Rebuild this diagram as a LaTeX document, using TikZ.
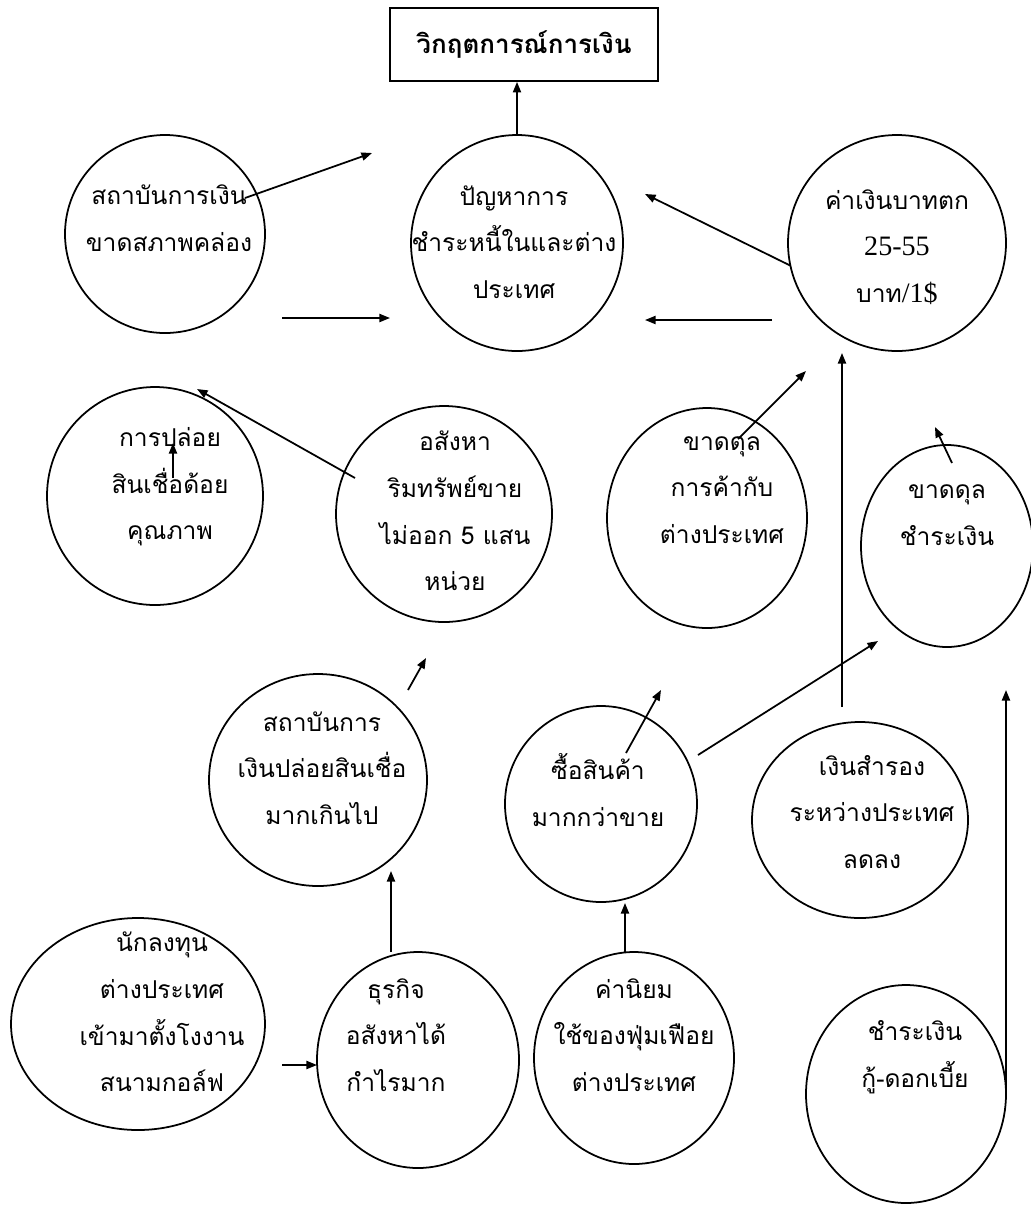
\documentclass[tikz,border=0pt]{standalone}
\usepackage{fontspec}
\newfontfamily\thaifont[Script=Thai]{Loma}
\newfontfamily\digitfont{Liberation Serif}
\usetikzlibrary{arrows.meta,shapes.geometric}
\tikzset{
  bubble/.style={ellipse,draw,line width=1pt,inner sep=0pt,outer sep=0pt},
  bubtext/.style={align=center,inner sep=0pt,font=\thaifont\fontsize{14}{26.5}\selectfont},
  arr/.style={line width=1pt,-{Triangle[length=6pt,width=4.6pt]}},
}
\newcommand{\bub}[8]{%
  \node[bubble,minimum width=#4*0.02cm,minimum height=#5*0.02cm] (#1) at (#2,#3) {};
  \node[bubtext] (#1txt) at (#6,#7) {#8};}

\begin{document}
\begin{tikzpicture}[x=0.02cm,y=-0.02cm]
\useasboundingbox (0,0) rectangle (1031,1218);
\node[draw,line width=1pt,minimum width=268*0.02cm,minimum height=73*0.02cm,
  font=\thaifont\bfseries\fontsize{14.8}{17}\selectfont] (title) at (524,44.5) {วิกฤตการณ์การเงิน};
\bub{liq}{165}{234}{200}{198}{169}{218}{สถาบันการเงิน\\ขาดสภาพคล่อง}
\bub{prob}{517}{243}{212}{216}{514}{242}{ปัญหาการ\\ชำระหนี้ในและต่าง\\ประเทศ}
\bub{cur}{897}{243}{218}{216}{897}{247}{ค่าเงินบาทตก\\{\digitfont\fontsize{16}{26.5}\selectfont 25-55}\\บาท{\digitfont\fontsize{16}{26.5}\selectfont /1\$}}
\bub{poor}{155}{496}{216}{218}{170}{487}{การปล่อย\\สินเชื่อด้อย\\คุณภาพ}
\bub{asset}{444}{514}{216}{216}{455}{511}{อสังหา\\ริมทรัพย์ขาย\\ไม่ออก 5 แสน\\หน่วย}
\bub{trade}{707}{518}{200}{220}{722}{490}{ขาดดุล\\การค้ากับ\\ต่างประเทศ}
\bub{pay}{947}{546}{172}{202}{947}{515}{ขาดดุล\\ชำระเงิน}
\bub{credit}{318}{780}{218}{212}{322}{768}{สถาบันการ\\เงินปล่อยสินเชื่อ\\มากเกินไป}
\bub{buy}{601}{804}{192}{196}{598}{790}{ซื้อสินค้า\\มากกว่าขาย}
\bub{res}{860}{820}{216}{196}{872}{812}{เงินสำรอง\\ระหว่างประเทศ\\ลดลง}
\bub{inv}{138}{1024}{254}{212}{162}{1012}{นักลงทุน\\ต่างประเทศ\\เข้ามาตั้งโงงาน\\สนามกอล์ฟ}
\bub{biz}{418}{1060}{202}{216}{396}{1035}{ธุรกิจ\\อสังหาได้\\กำไรมาก}
\bub{val}{634}{1058}{200}{212}{634}{1035}{ค่านิยม\\ใช้ของฟุ่มเฟือย\\ต่างประเทศ}
\bub{rep}{906}{1094}{200}{218}{915}{1057}{ชำระเงิน\\กู้-ดอกเบี้ย}

\coordinate (liqout) at (245,198);   \coordinate (liqend) at (372,153);
\coordinate (midl) at (282,318);     \coordinate (midlend) at (390,318);
\coordinate (curend) at (645,194);
\coordinate (midr) at (772,320);     \coordinate (midrend) at (645,320);
\coordinate (poorout) at (173,478);  \coordinate (poorend) at (173,443);
\coordinate (assetout) at (355,478); \coordinate (assetend) at (197,389);
\coordinate (tradeout) at (738,439); \coordinate (tradeend) at (806,371);
\coordinate (resout) at (842,707);   \coordinate (resend) at (842,353);
\coordinate (payout) at (952,463);   \coordinate (payend) at (935,427);
\coordinate (buyout) at (698,755);   \coordinate (buyend) at (878,641);
\coordinate (buyin) at (626,753);    \coordinate (buyinend) at (661,690);
\coordinate (creditout) at (408,690); \coordinate (creditend) at (426,658);
\coordinate (bizout) at (391,952);   \coordinate (bizend) at (391,871);
\coordinate (invout) at (282,1065);
\coordinate (valout) at (625,952);   \coordinate (valend) at (625,903);
\coordinate (repend) at (1006,690);

\draw[arr] (prob.north) -- (prob.north |- title.south);
\draw[arr] (liqout) -- (liqend);
\draw[arr] (midl) -- (midlend);
\draw[arr] (cur.192) -- (curend);
\draw[arr] (midr) -- (midrend);
\draw[arr] (poorout) -- (poorend);
\draw[arr] (assetout) -- (assetend);
\draw[arr] (tradeout) -- (tradeend);
\draw[arr] (resout) -- (resend);
\draw[arr] (payout) -- (payend);
\draw[arr] (buyout) -- (buyend);
\draw[arr] (buyin) -- (buyinend);
\draw[arr] (creditout) -- (creditend);
\draw[arr] (bizout) -- (bizend);
\draw[arr] (invout) -- (invout -| biz.west);
\draw[arr] (valout) -- (valend);
\draw[arr] (rep.east) -- (rep.east |- repend);
\end{tikzpicture}
\end{document}
